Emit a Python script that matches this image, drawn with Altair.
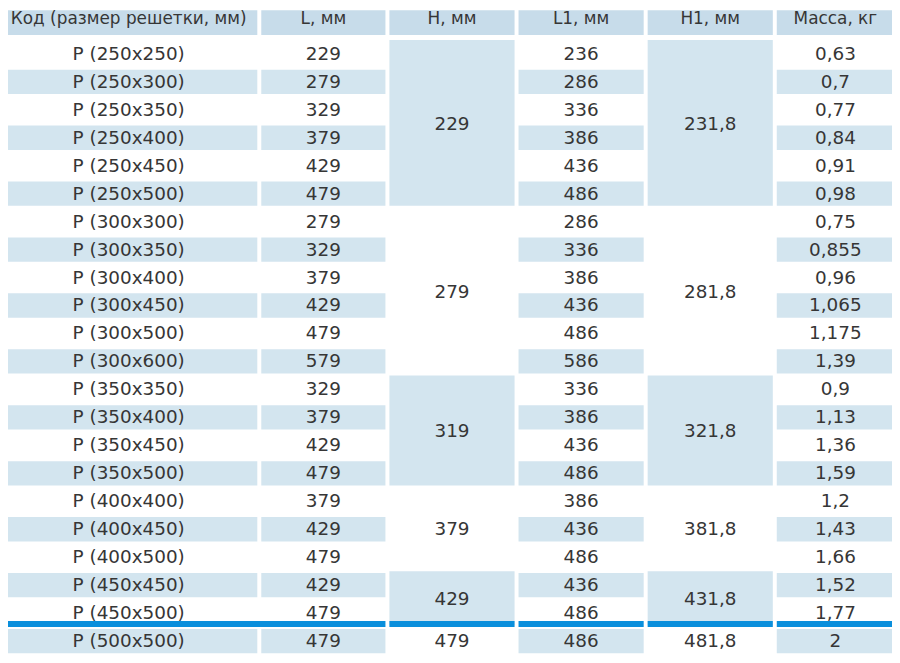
import altair as alt
import pandas as pd

# ---------------- data ----------------
headers = ["Код (размер решетки, мм)", "L, мм", "H, мм", "L1, мм", "H1, мм", "Масса, кг"]
codes = ["P (250x250)", "P (250x300)", "P (250x350)", "P (250x400)", "P (250x450)", "P (250x500)",
         "P (300x300)", "P (300x350)", "P (300x400)", "P (300x450)", "P (300x500)", "P (300x600)",
         "P (350x350)", "P (350x400)", "P (350x450)", "P (350x500)",
         "P (400x400)", "P (400x450)", "P (400x500)",
         "P (450x450)", "P (450x500)",
         "P (500x500)"]
L_vals = [229, 279, 329, 379, 429, 479,
          279, 329, 379, 429, 479, 579,
          329, 379, 429, 479,
          379, 429, 479,
          429, 479,
          479]
L1_vals = [236, 286, 336, 386, 436, 486,
           286, 336, 386, 436, 486, 586,
           336, 386, 436, 486,
           386, 436, 486,
           436, 486,
           486]
mass_vals = [0.63, 0.7, 0.77, 0.84, 0.91, 0.98,
             0.75, 0.855, 0.96, 1.065, 1.175, 1.39,
             0.9, 1.13, 1.36, 1.59,
             1.2, 1.43, 1.66,
             1.52, 1.77,
             2]
H_groups = [229, 279, 319, 379, 429, 479]
H1_groups = [231.8, 281.8, 321.8, 381.8, 431.8, 481.8]
group_sizes = [6, 6, 4, 3, 2, 1]

# ---------------- layout ----------------
col_edges = [(0, 259), (263, 388), (392, 518), (522, 648), (652, 778), (782, 900)]
HEADER_BG = "#c7dcea"
ROW_BG = "#d3e5ef"
BLUE = "#0a8fdc"
TXT = "#363636"
half = 0.435

def fmt(v):
    s = ("%g" % v)
    return s.replace(".", ",")

rects = []
texts = []
hdr_texts = []
# header
for c, (a, b) in enumerate(col_edges):
    rects.append(dict(x1=a, x2=b, r1=-1.85, r2=-0.68, fill=HEADER_BG))
    hdr_texts.append(dict(xc=(a + b) / 2, r=-1.245, label=headers[c]))

n = len(codes)
# plain columns
for i in range(n):
    row_cols = {0: codes[i], 1: str(L_vals[i]), 3: str(L1_vals[i]), 5: fmt(mass_vals[i])}
    for c, lab in row_cols.items():
        a, b = col_edges[c]
        if i % 2 == 1:
            rects.append(dict(x1=a, x2=b, r1=i - half, r2=i + half, fill=ROW_BG))
        texts.append(dict(xc=(a + b) / 2, r=i, label=lab))

# merged columns
start = 0
for g, size in enumerate(group_sizes):
    end = start + size - 1
    for c, val in ((2, H_groups[g]), (4, H1_groups[g])):
        a, b = col_edges[c]
        if g % 2 == 0 and g < len(group_sizes) - 1:
            rects.append(dict(x1=a, x2=b, r1=start - 0.5, r2=end + half, fill=ROW_BG))
        texts.append(dict(xc=(a + b) / 2, r=(start + end) / 2, label=fmt(val)))
    start += size

# blue separator
blue_segs = [(0, 388), (392, 518), (522, 648), (652, 778), (782, 900)]
for a, b in blue_segs:
    rects.append(dict(x1=a, x2=b, r1=20.28, r2=20.5, fill=BLUE))

rect_df = pd.DataFrame(rects)
text_df = pd.DataFrame(texts)
hdr_df = pd.DataFrame(hdr_texts)

W, H = 890, 650
xs = alt.Scale(domain=[8, 8 + W], nice=False, zero=False)
r_top = (8 - 52) / 28.15
r_bot = (8 + H - 52) / 28.15
ys = alt.Scale(domain=[r_top, r_bot], reverse=True, nice=False, zero=False)

rect_layer = alt.Chart(rect_df).mark_rect(clip=True).encode(
    x=alt.X("x1:Q", scale=xs, axis=None),
    x2="x2:Q",
    y=alt.Y("r1:Q", scale=ys, axis=None),
    y2="r2:Q",
    color=alt.Color("fill:N", scale=None),
)

text_layer = alt.Chart(text_df).mark_text(
    font="DejaVu Sans", fontSize=18.5, color=TXT, baseline="middle", align="center"
).encode(
    x=alt.X("xc:Q", scale=xs, axis=None),
    y=alt.Y("r:Q", scale=ys, axis=None),
    text="label:N",
)

hdr_layer = alt.Chart(hdr_df).mark_text(
    font="DejaVu Sans", fontSize=17, color=TXT, baseline="middle", align="center"
).encode(
    x=alt.X("xc:Q", scale=xs, axis=None),
    y=alt.Y("r:Q", scale=ys, axis=None),
    text="label:N",
)

chart = alt.layer(rect_layer, text_layer, hdr_layer).properties(
    width=W, height=H, padding=0, autosize=alt.AutoSizeParams(type="none"),
    background="white",
).configure_view(stroke=None)

chart.save("out.html", embed_options={"renderer": "svg", "actions": False})
